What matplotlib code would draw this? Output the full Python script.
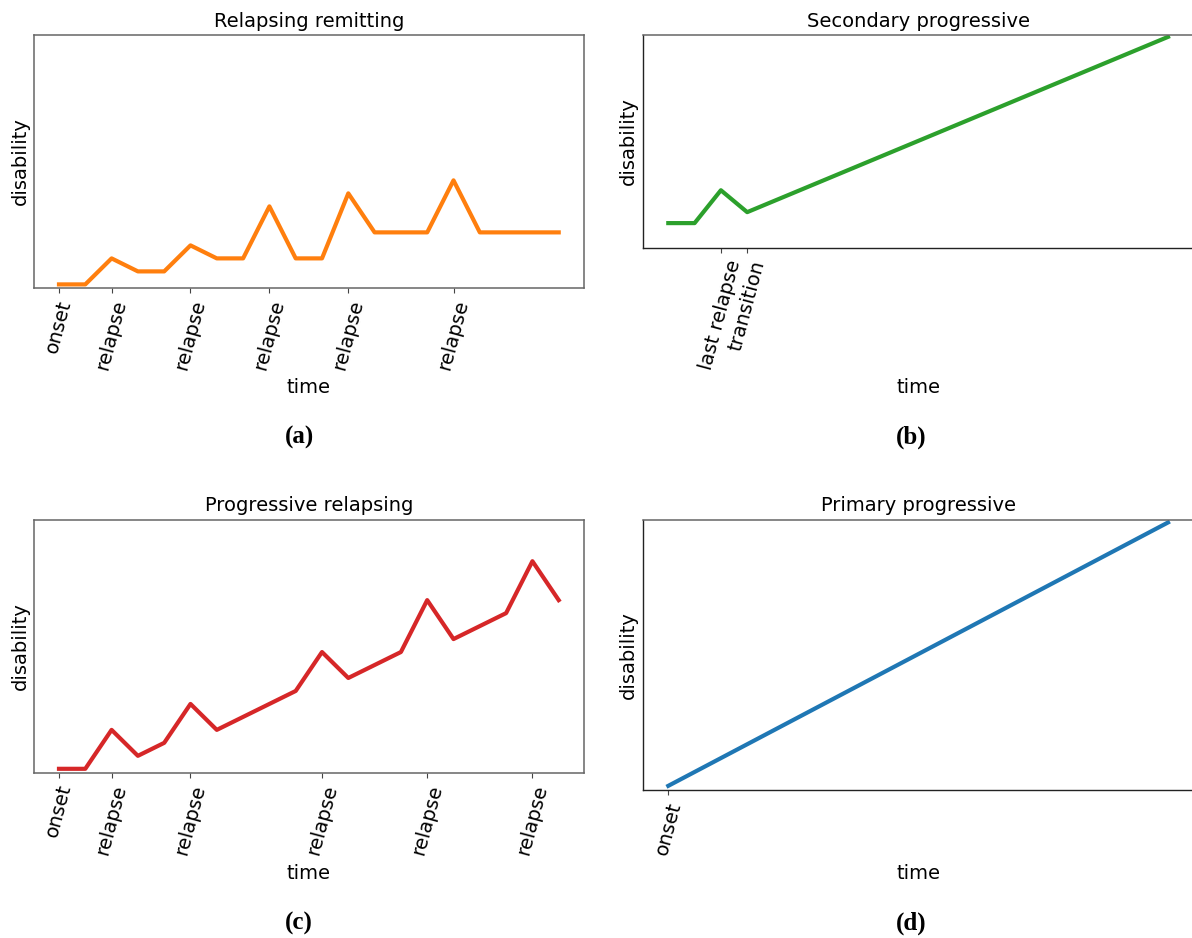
import matplotlib
matplotlib.use("Agg")
import matplotlib.pyplot as plt

# Relapsing remitting course
rr_time = [0, 1, 2, 3, 4, 5, 6, 7, 8, 9, 10, 11, 12, 14, 15, 16, 19]
rr_disability = [0, 0, 2, 1, 1, 3, 2, 2, 6, 2, 2, 7, 4, 4, 8, 4, 4]
rr_ticks = [0, 2, 5, 8, 11, 15]
rr_labels = ["onset", "relapse", "relapse", "relapse", "relapse", "relapse"]

# Secondary progressive course
sp_time = [0, 1, 2, 3, 19]
sp_disability = [2, 2, 5, 3, 19]
sp_ticks = [2, 3]
sp_labels = ["last relapse", "transition"]

# Progressive relapsing course
pr_time = [0, 1, 2, 3, 4, 5, 6, 9, 10, 11, 13, 14, 15, 17, 18, 19]
pr_disability = [0, 0, 3, 1, 2, 5, 3, 6, 9, 7, 9, 13, 10, 12, 16, 13]
pr_ticks = [0, 2, 5, 10, 14, 18]
pr_labels = ["onset", "relapse", "relapse", "relapse", "relapse", "relapse"]

# Primary progressive course
pp_time = [0, 19]
pp_disability = [0, 19]
pp_ticks = [0]
pp_labels = ["onset"]

W, H = 1192, 938
fig = plt.figure(figsize=(W / 100, H / 100), dpi=100)
fig.patch.set_facecolor("white")


def rect(left, right, top, bottom):
    return [left / W, 1 - bottom / H, (right - left) / W, (bottom - top) / H]


panels = [
    dict(rect=rect(34, 583.7, 34.7, 288.3), t=rr_time, d=rr_disability,
         ticks=rr_ticks, labels=rr_labels, color="#ff7f0e",
         title="Relapsing remitting", title_y=1.054, xlab_y=-0.393, ylab_x=-0.0255,
         boxed=True, cap="(a)", cap_xy=(299, 437)),
    dict(rect=rect(643.3, 1193, 34.7, 248.3), t=sp_time, d=sp_disability,
         ticks=sp_ticks, labels=sp_labels, color="#2ca02c",
         title="Secondary progressive", title_y=1.064, xlab_y=-0.653, ylab_x=-0.027,
         boxed=False, cap="(b)", cap_xy=(911, 437)),
    dict(rect=rect(34, 583.7, 519.7, 772.7), t=pr_time, d=pr_disability,
         ticks=pr_ticks, labels=pr_labels, color="#d62728",
         title="Progressive relapsing", title_y=1.055, xlab_y=-0.398, ylab_x=-0.0255,
         boxed=True, cap="(c)", cap_xy=(299, 923)),
    dict(rect=rect(643.3, 1193, 519.7, 790), t=pp_time, d=pp_disability,
         ticks=pp_ticks, labels=pp_labels, color="#1f77b4",
         title="Primary progressive", title_y=1.052, xlab_y=-0.308, ylab_x=-0.027,
         boxed=False, cap="(d)", cap_xy=(911, 923)),
]

for p in panels:
    ax = fig.add_axes(p["rect"])
    ax.plot(p["t"], p["d"], color=p["color"], linewidth=3)
    ax.set_xlim(-0.95, 19.95)
    ax.set_ylim(-0.3, 19.2)
    ax.set_xticks(p["ticks"])
    ax.set_xticklabels(p["labels"], rotation=75, fontsize=14)
    ax.set_yticks([])
    ax.tick_params(axis="x", length=3.5, width=0.8, color="#444444")

    if p["boxed"]:
        for s in ax.spines.values():
            s.set_color("#666666")
            s.set_linewidth(1.1)
    else:
        for name in ("left", "bottom"):
            ax.spines[name].set_color("#222222")
            ax.spines[name].set_linewidth(1.0)
        ax.spines["top"].set_color("#666666")
        ax.spines["top"].set_linewidth(1.1)

    ax.set_title(p["title"], fontsize=14, y=p["title_y"], pad=0, va="center")
    ax.set_xlabel("time", fontsize=14)
    ax.xaxis.label.set_verticalalignment("center")
    ax.xaxis.set_label_coords(0.5, p["xlab_y"])
    ax.set_ylabel("disability", fontsize=14)
    ax.yaxis.label.set_verticalalignment("center")
    ax.yaxis.set_label_coords(p["ylab_x"], 0.5)

    cx, cy = p["cap_xy"]
    fig.text(cx / W, 1 - cy / H, p["cap"], ha="center", va="center",
             fontsize=18, fontweight="bold", family="Liberation Serif")

fig.savefig("out.png", dpi=100, facecolor="white")
